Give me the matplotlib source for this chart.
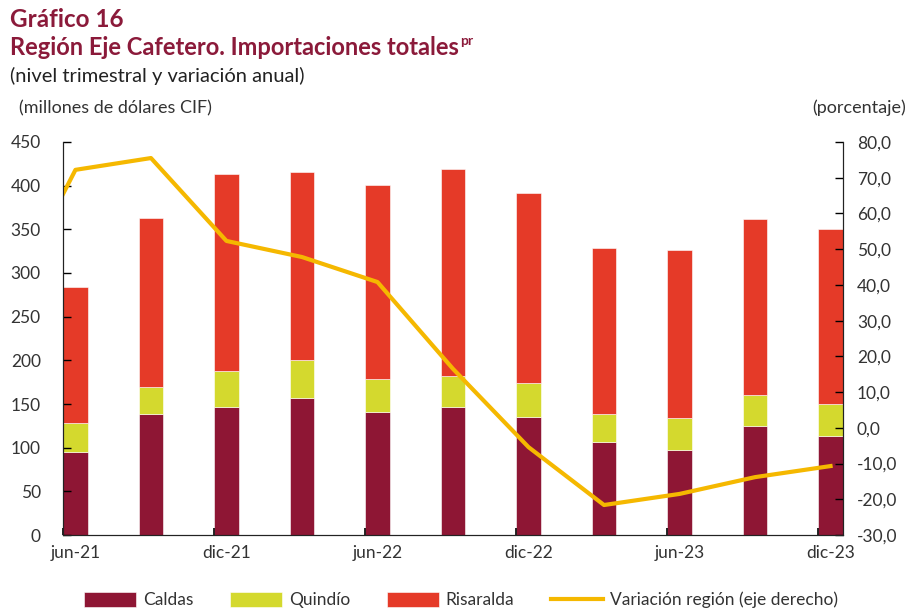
import matplotlib
matplotlib.use('Agg')
import matplotlib.pyplot as plt
import numpy as np

# datos (millones de dolares CIF)
trimestres = ['jun-21', 'sep-21', 'dic-21', 'mar-22', 'jun-22', 'sep-22',
              'dic-22', 'mar-23', 'jun-23', 'sep-23', 'dic-23']
caldas = [95.5, 139, 147, 157, 141, 147, 135.5, 106, 97, 125, 113.5]
quindio = [32.5, 31, 41, 43, 38, 35, 38, 32.5, 36.5, 35, 36]
risaralda = [155.7, 192.5, 225, 216, 222, 237, 218, 190, 193, 201.5, 200.5]
# variacion anual (%), incluye mar-21 que queda recortado en el borde
variacion_prev = 31.0
variacion = [72.2, 75.5, 52.3, 47.8, 40.8, 16.5, -5.4, -21.6, -18.5, -13.8, -10.7]

c_caldas = '#8E1634'
c_quindio = '#D4D92E'
c_risaralda = '#E53A28'
c_linea = '#F5B800'
c_titulo = '#8B1A3A'
c_texto = '#333333'

plt.rcParams['font.family'] = ['Lato', 'DejaVu Sans']

fig = plt.figure(figsize=(9.09, 6.13), dpi=100)
ax = fig.add_axes([0.0693, 0.1272, 0.8581, 0.6412])
ax2 = ax.twinx()

x = np.arange(len(trimestres))
w = 0.33
b1 = ax.bar(x, caldas, w, color=c_caldas, edgecolor='white', linewidth=0.4, label='Caldas')
b2 = ax.bar(x, quindio, w, bottom=caldas, color=c_quindio, edgecolor='white',
            linewidth=0.4, label='Quindío')
base = np.array(caldas) + np.array(quindio)
b3 = ax.bar(x, risaralda, w, bottom=base, color=c_risaralda, edgecolor='white',
            linewidth=0.4, label='Risaralda')

xl = np.concatenate([[-1], x])
yl = [variacion_prev] + variacion
l1, = ax2.plot(xl, yl, color=c_linea, linewidth=3, label='Variación región (eje derecho)')

ax.set_xlim(-w / 2, len(x) - 1 + w / 2)
ax.set_ylim(0, 450)
ax.set_yticks(np.arange(0, 451, 50))
ax2.set_ylim(-30, 80)
ax2.set_yticks(np.arange(-30, 81, 10))
ax2.set_yticklabels(['{:.1f}'.format(v).replace('.', ',') for v in np.arange(-30, 81, 10)])

ax.set_xticks(x[::2])
ax.set_xticklabels(trimestres[::2])
ax.set_xticks(x[::2] - w / 2, minor=True)
ax.tick_params(axis='x', which='major', length=0, pad=7, labelsize=12.5, labelcolor=c_texto)
ax.tick_params(axis='x', which='minor', direction='in', length=5, width=1.2)
ax.tick_params(axis='y', direction='in', length=6, width=1, labelsize=12.5,
               labelcolor=c_texto, pad=16)
ax2.tick_params(axis='y', direction='in', length=6, width=1, labelsize=12.5,
                labelcolor=c_texto, pad=10)

for a in (ax, ax2):
    a.spines['top'].set_visible(False)
    a.spines['left'].set_color('#222222')
    a.spines['right'].set_color('#222222')
    a.spines['bottom'].set_color('#222222')

# titulos
fig.text(0.011, 0.956, 'Gráfico 16', fontsize=17.5, fontweight='bold', color=c_titulo, va='baseline')
t2 = fig.text(0.011, 0.911, 'Región Eje Cafetero. Importaciones totales', fontsize=17,
              fontweight='bold', color=c_titulo, va='baseline')
fig.canvas.draw()
bb = t2.get_window_extent()
fig.text(bb.x1 / fig.bbox.width + 0.001, 0.927, 'pr', fontsize=10, fontweight='bold',
         color=c_titulo, va='baseline')
fig.text(0.011, 0.866, '(nivel trimestral y variación anual)', fontsize=14.5, color='#222222',
         va='baseline')
fig.text(0.021, 0.815, '(millones de dólares CIF)', fontsize=13, color=c_texto, va='baseline')
fig.text(0.997, 0.815, '(porcentaje)', fontsize=13, color=c_texto, va='baseline', ha='right')

fig.legend([b1, b2, b3, l1], ['Caldas', 'Quindío', 'Risaralda', 'Variación región (eje derecho)'],
           loc='lower center', bbox_to_anchor=(0.507, -0.018), ncol=4, frameon=False,
           fontsize=12.5, handlelength=3.0, handleheight=0.9, columnspacing=2.1,
           handletextpad=0.4, labelcolor=c_texto)

fig.savefig('out.png', dpi=100)
